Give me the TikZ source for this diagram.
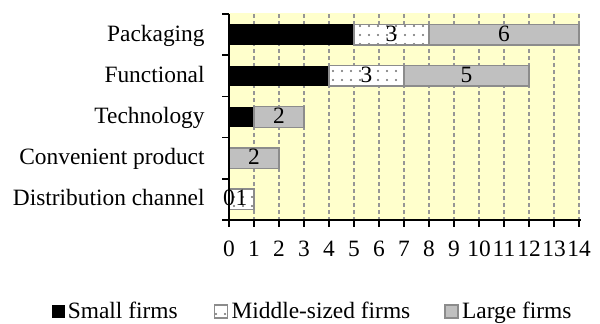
\documentclass[tikz,border=0pt]{standalone}
\usepackage{fontspec}
\setmainfont{Liberation Serif}
\usetikzlibrary{positioning}
\usetikzlibrary{patterns.meta}
\definecolor{plotbg}{RGB}{255,255,204}
\definecolor{gridgray}{RGB}{150,150,150}
\definecolor{dotgray}{RGB}{110,110,110}
\definecolor{largefill}{RGB}{192,192,192}
\definecolor{barline}{RGB}{140,140,140}
\tikzstyle{txt}=[inner sep=0pt, text height=8pt, text depth=1.5pt,
font=\fontsize{11.7}{13}\selectfont]
\tikzstyle{cat}=[txt, anchor=east]
\tikzstyle{val}=[txt]
\tikzstyle{grid}=[gridgray, line width=0.6pt, dash pattern=on 2pt off 1.5pt]
\tikzstyle{axis}=[black, line width=0.8pt]
\tikzstyle{smallbar}=[fill=black]
\tikzstyle{middlebar}=[draw=barline, line width=0.7pt, preaction={fill=white},
pattern={Dots[distance=4.5pt, radius=0.55pt]}, pattern color=dotgray]
\tikzstyle{largebar}=[draw=barline, line width=0.7pt, fill=largefill]
\tikzstyle{key}=[minimum size=6.5pt, inner sep=0pt]

\begin{document}
\begin{tikzpicture}[x=0.5pt, y=-0.5pt]
    \useasboundingbox (0,0) rectangle (600,323);

    % plot area
    \fill[plotbg] (229,13) rectangle (580,220);
    \foreach \i in {1,...,14}
        \draw[grid] ({229+25*\i},14) -- ({229+25*\i},220);

    % bars
    \fill[smallbar] (229,24.3) rectangle (354,44.9);
    \draw[middlebar] (354,24.3) rectangle (429,44.9);
    \draw[largebar] (429,24.3) rectangle (579,44.9);

    \fill[smallbar] (229,65.5) rectangle (329,86.1);
    \draw[middlebar] (329,65.5) rectangle (404,86.1);
    \draw[largebar] (404,65.5) rectangle (529,86.1);

    \fill[smallbar] (229,106.7) rectangle (254,127.3);
    \draw[largebar] (254,106.7) rectangle (304,127.3);

    \draw[largebar] (229,147.9) rectangle (279,168.5);

    \draw[middlebar] (229,189.1) rectangle (254,209.7);

    % values
    \node[val] (pack3) at (391.5,34.6) {3};
    \node[val] (pack6) at (504,34.6) {6};
    \node[val] (func3) at (366.5,75.8) {3};
    \node[val] (func5) at (466.5,75.8) {5};
    \node[val] (tech2) at (279,117) {2};
    \node[val] (conv2) at (254,158.2) {2};
    \node[val] (dist0) at (229,199.4) {0};
    \node[val] (dist1) at (241.5,199.4) {1};

    % axes
    \draw[axis] (229,14) -- (229,220);
    \draw[axis] (222,220) -- (581,220);
    \foreach \j in {0,...,4}
        \draw[axis] (222,{14+41.2*\j}) -- (229,{14+41.2*\j});
    \foreach \i in {0,...,14}
        \draw[axis] ({229+25*\i},220) -- ({229+25*\i},227);
    \foreach \i in {0,...,14}
        \node[val] (n\i) at ({229+25*\i},250) {\i};

    % categories
    \node[cat] (pack) at (205,34.6) {Packaging};
    \node[cat] (func) at (205,75.8) {Functional};
    \node[cat] (tech) at (205,117) {Technology};
    \node[cat] (conv) at (205,158.2) {Convenient product};
    \node[cat] (dist) at (205,199.4) {Distribution channel};

    % legend
    \node[key, fill=black] (ksmall) at (58.5,311.5) {};
    \node[txt, right=1pt of ksmall] (lsmall) {Small firms};
    \node[key, middlebar] (kmiddle) at (221,311.5) {};
    \node[txt, right=1.5pt of kmiddle] (lmiddle) {Middle-sized firms};
    \node[key, largebar] (klarge) at (451.5,311.5) {};
    \node[txt, right=1.5pt of klarge] (llarge) {Large firms};
\end{tikzpicture}
\end{document}
